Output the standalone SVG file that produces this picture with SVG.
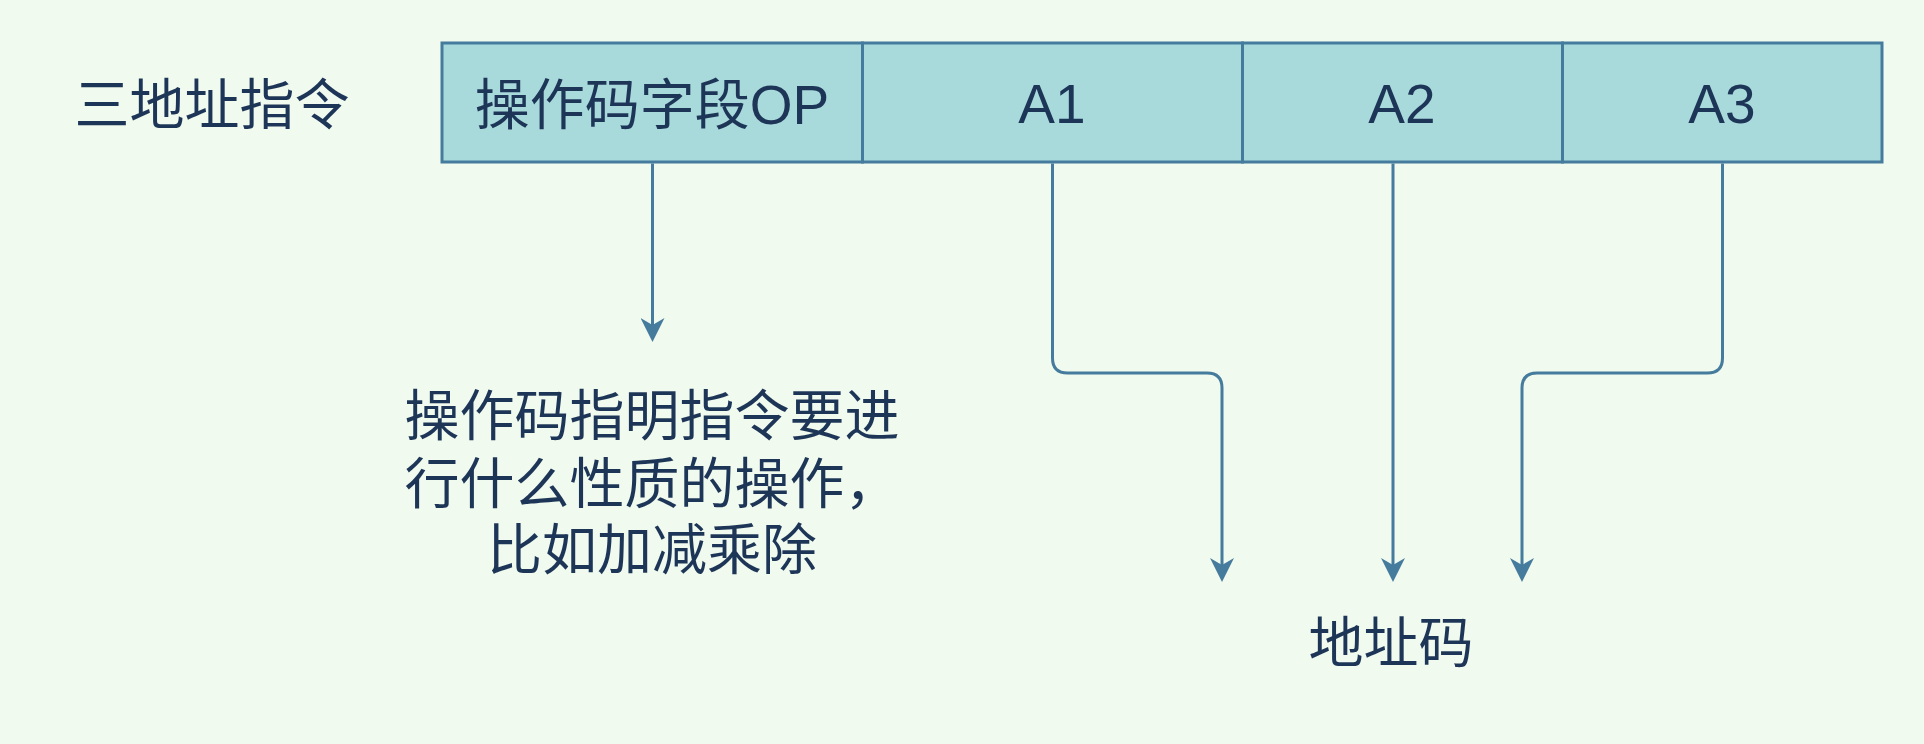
<svg xmlns="http://www.w3.org/2000/svg" width="1924" height="744" viewBox="0 0 1924 744">
<style>
.cell{fill:#A8DADC;stroke:#457B9D;stroke-width:3}
.t{font-family:"Liberation Sans","Noto Sans CJK SC",sans-serif;font-size:55px;fill:#1D3557;text-anchor:middle}
.edge{fill:none;stroke:#457B9D;stroke-width:3}
</style>
<defs>
<marker id="arr" markerUnits="userSpaceOnUse" viewBox="0 0 24 24" markerWidth="24" markerHeight="24" refX="7" refY="12" orient="auto">
<path d="M0,0 L24,12 L0,24 L7,12 Z" fill="#457B9D"/>
</marker>
</defs>
<rect width="1924" height="744" fill="#F1FAEE"/>
<g id="label-three">
<text class="t" x="212" y="124">三地址指令</text>
</g>
<g id="cell-op">
<rect class="cell" x="442" y="43" width="420.5" height="119"/>
<text class="t" x="652" y="124">操作码字段OP</text>
</g>
<g id="cell-a1">
<rect class="cell" x="862.5" y="43" width="380" height="119"/>
<text class="t" x="1052" y="123">A1</text>
</g>
<g id="cell-a2">
<rect class="cell" x="1242.5" y="43" width="320" height="119"/>
<text class="t" x="1402" y="123">A2</text>
</g>
<g id="cell-a3">
<rect class="cell" x="1562.5" y="43" width="319.5" height="119"/>
<text class="t" x="1722" y="123">A3</text>
</g>
<g id="note-op">
<text class="t" x="652" y="435">操作码指明指令要进</text>
<text class="t" x="652" y="503">行什么性质的操作，</text>
<text class="t" x="652" y="569">比如加减乘除</text>
</g>
<g id="note-addr">
<text class="t" x="1391" y="662">地址码</text>
</g>
<g id="connectors">
<path class="edge" marker-end="url(#arr)" d="M652.5,163.5 V325"/>
<path class="edge" marker-end="url(#arr)" d="M1052.5,163.5 V358 Q1052.5,373 1067.5,373 H1207 Q1222,373 1222,388 V565"/>
<path class="edge" marker-end="url(#arr)" d="M1393,163.5 V565"/>
<path class="edge" marker-end="url(#arr)" d="M1722.5,163.5 V358 Q1722.5,373 1707.5,373 H1537 Q1522,373 1522,388 V565"/>
</g>
</svg>
